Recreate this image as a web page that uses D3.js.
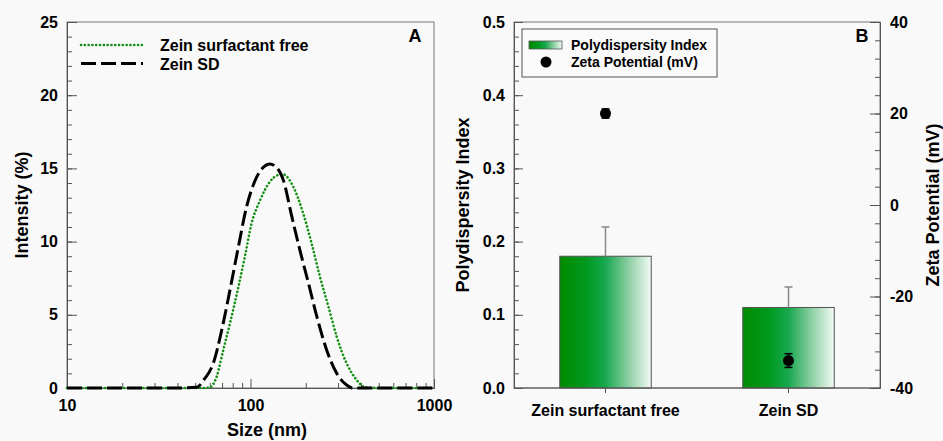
<!DOCTYPE html>
<html>
<head>
<meta charset="utf-8">
<script src="https://cdn.jsdelivr.net/npm/d3@7"></script>
<style>
  body { margin: 0; background: #f9f9f9; }
  svg { display: block; font-family: Arial, "Liberation Sans", sans-serif; font-weight: bold; }
</style>
</head>
<body>
<div id="chart"></div>
<script>
// ---- panel A : size distribution ----
var sizeFree = [10, 20, 40, 55, 60.1, 65.4, 71.1, 77.3, 85.9, 93.2, 101.4, 112.6, 127.7, 141.6, 150, 171, 194, 215, 239, 266, 295, 334, 379, 421, 500, 700, 1000];
var intensityFree = [0, 0, 0, 0, 0.05, 0.77, 2.6, 4.42, 6.9, 8.97, 11.25, 12.8, 14.1, 14.55, 14.6, 13.75, 11.9, 9.9, 7.6, 5.55, 3.5, 1.69, 0.55, 0.05, 0, 0, 0];
var sizeSD = [10, 20, 40, 50.9, 56, 62.7, 69.7, 77.3, 85.9, 95.3, 108, 118, 127, 140, 151, 168, 186, 207, 230, 260, 295, 334, 360, 500, 700, 1000];
var intensitySD = [0, 0, 0, 0.05, 0.6, 1.69, 3.96, 6.7, 9.65, 12.4, 14.4, 15.1, 15.3, 15.0, 14.2, 11.7, 9.4, 7.15, 4.87, 2.6, 1.0, 0.2, 0, 0, 0, 0];
var seriesNamesA = ["Zein surfactant free", "Zein SD"];
var intensityTicks = [0, 5, 10, 15, 20, 25];
var sizeTicks = [10, 100, 1000];

// ---- panel B : PDI bars + zeta potential ----
var categories = ["Zein surfactant free", "Zein SD"];
var pdiValues = [0.18, 0.11];
var pdiErrors = [0.04, 0.028];
var zetaValues = [20, -34];
var zetaErrors = [1, 1.5];
var pdiTicks = [0, 0.1, 0.2, 0.3, 0.4, 0.5];
var zetaTicks = [-40, -20, 0, 20, 40];

var width = 943, height = 441;
var svg = d3.select("#chart").append("svg")
  .attr("width", width).attr("height", height);

var frameColor = "#555";
var plotTop = 22, plotBottom = 388;

/*************** PANEL A ***************/
var ax = d3.scaleLog().domain([10, 1000]).range([67, 434]);
var ay = d3.scaleLinear().domain([0, 25]).range([plotBottom, plotTop]);

var gA = svg.append("g");

// frame
gA.append("rect")
  .attr("x", ax.range()[0]).attr("y", plotTop)
  .attr("width", ax.range()[1] - ax.range()[0]).attr("height", plotBottom - plotTop)
  .attr("fill", "none").attr("stroke", "#777").attr("stroke-width", 1);

// minor ticks y
gA.append("g")
  .attr("transform", "translate(" + ax.range()[0] + ",0)")
  .call(d3.axisLeft(ay).tickValues(d3.range(0, 26, 1)).tickSize(-5).tickFormat(""))
  .call(g => g.select(".domain").remove());
// major y
gA.append("g")
  .attr("transform", "translate(" + ax.range()[0] + ",0)")
  .call(d3.axisLeft(ay).tickValues(intensityTicks).tickSize(-10).tickPadding(9))
  .call(g => g.select(".domain").attr("stroke", frameColor));

// minor x
var minorSizes = [];
[10, 100].forEach(function(dec){ for (var k = 2; k < 10; k++) minorSizes.push(dec * k); });
gA.append("g")
  .attr("transform", "translate(0," + plotBottom + ")")
  .call(d3.axisBottom(ax).tickValues(minorSizes).tickSize(-5).tickFormat(""))
  .call(g => g.select(".domain").remove());
gA.append("g")
  .attr("transform", "translate(0," + plotBottom + ")")
  .call(d3.axisBottom(ax).tickValues(sizeTicks).tickSize(-9).tickPadding(12).tickFormat(d3.format("d")))
  .call(g => g.select(".domain").attr("stroke", frameColor));

var line = d3.line()
  .x(d => ax(d[0])).y(d => ay(d[1]))
  .curve(d3.curveMonotoneX);

var freeData = sizeFree.map((s, i) => [s, intensityFree[i]]);
var sdData = sizeSD.map((s, i) => [s, intensitySD[i]]);

var greenStyle = { stroke: "#138f13", width: 2.6, dash: "0.1,3.7", cap: "round" };
var blackStyle = { stroke: "#000", width: 3, dash: "15,5", cap: "butt" };

gA.append("path").datum(freeData)
  .attr("d", line).attr("fill", "none")
  .attr("stroke", greenStyle.stroke).attr("stroke-width", greenStyle.width)
  .attr("stroke-dasharray", greenStyle.dash).attr("stroke-linecap", greenStyle.cap);
gA.append("path").datum(sdData)
  .attr("d", line).attr("fill", "none")
  .attr("stroke", blackStyle.stroke).attr("stroke-width", blackStyle.width)
  .attr("stroke-dasharray", blackStyle.dash).attr("stroke-linecap", blackStyle.cap);

// legend A
var legA = gA.append("g");
[greenStyle, blackStyle].forEach(function(st, i){
  var yy = 45 + i * 18.5;
  legA.append("line")
    .attr("x1", 81).attr("x2", 143).attr("y1", yy).attr("y2", yy)
    .attr("stroke", st.stroke).attr("stroke-width", st.width)
    .attr("stroke-dasharray", st.dash).attr("stroke-linecap", st.cap);
  legA.append("text")
    .attr("x", 160).attr("y", yy + 6)
    .style("font-size", "16px")
    .text(seriesNamesA[i]);
});

gA.append("text").attr("x", 415).attr("y", 42)
  .attr("text-anchor", "middle").style("font-size", "18px").text("A");

gA.append("text")
  .attr("transform", "translate(28,205) rotate(-90)")
  .attr("text-anchor", "middle").style("font-size", "18px")
  .text("Intensity (%)");
gA.append("text")
  .attr("x", 267).attr("y", 436)
  .attr("text-anchor", "middle").style("font-size", "18px")
  .text("Size (nm)");

/*************** PANEL B ***************/
var bx = d3.scaleBand().domain(categories).range([514, 880])
  .paddingInner(0.5).paddingOuter(0.25);
var by = d3.scaleLinear().domain([0, 0.5]).range([plotBottom, plotTop]);
var zy = d3.scaleLinear().domain([-40, 40]).range([plotBottom, plotTop]);

var gB = svg.append("g");

var defs = svg.append("defs");
var grad = defs.append("linearGradient").attr("id", "pdiGrad")
  .attr("x1", "0%").attr("x2", "100%").attr("y1", "0%").attr("y2", "0%");
[["0%", "#008a00"], ["30%", "#009a20"], ["50%", "#19a850"], ["75%", "#8ccfa2"], ["100%", "#f3faf5"]]
  .forEach(s => grad.append("stop").attr("offset", s[0]).attr("stop-color", s[1]));

gB.append("rect")
  .attr("x", 514).attr("y", plotTop).attr("width", 880 - 514).attr("height", plotBottom - plotTop)
  .attr("fill", "none").attr("stroke", "#777");

// bars
gB.selectAll(".bar").data(categories).enter().append("rect")
  .attr("class", "bar")
  .attr("x", d => bx(d)).attr("width", bx.bandwidth())
  .attr("y", (d, i) => by(pdiValues[i]))
  .attr("height", (d, i) => by(0) - by(pdiValues[i]))
  .attr("fill", "url(#pdiGrad)").attr("stroke", "#555").attr("stroke-width", 1);

// PDI error bars (upper only)
categories.forEach(function(c, i){
  var cx = bx(c) + bx.bandwidth() / 2;
  gB.append("line")
    .attr("x1", cx).attr("x2", cx)
    .attr("y1", by(pdiValues[i])).attr("y2", by(pdiValues[i] + pdiErrors[i]))
    .attr("stroke", "#888").attr("stroke-width", 1.5);
  gB.append("line")
    .attr("x1", cx - 4).attr("x2", cx + 4)
    .attr("y1", by(pdiValues[i] + pdiErrors[i])).attr("y2", by(pdiValues[i] + pdiErrors[i]))
    .attr("stroke", "#888").attr("stroke-width", 1.5);
});

// zeta points
categories.forEach(function(c, i){
  var cx = bx(c) + bx.bandwidth() / 2;
  var lo = zy(zetaValues[i] - zetaErrors[i]), hi = zy(zetaValues[i] + zetaErrors[i]);
  gB.append("line").attr("x1", cx).attr("x2", cx).attr("y1", lo).attr("y2", hi)
    .attr("stroke", "#000").attr("stroke-width", 1.5);
  [lo, hi].forEach(yy => gB.append("line")
    .attr("x1", cx - 4).attr("x2", cx + 4).attr("y1", yy).attr("y2", yy)
    .attr("stroke", "#000").attr("stroke-width", 1.5));
  gB.append("circle").attr("cx", cx).attr("cy", zy(zetaValues[i])).attr("r", 5.5)
    .attr("fill", "#000");
});

// left axis B
gB.append("g")
  .attr("transform", "translate(514,0)")
  .call(d3.axisLeft(by).tickValues(d3.range(0, 0.51, 0.02)).tickSize(-5).tickFormat(""))
  .call(g => g.select(".domain").remove());
gB.append("g")
  .attr("transform", "translate(514,0)")
  .call(d3.axisLeft(by).tickValues(pdiTicks).tickSize(-9).tickPadding(9).tickFormat(d3.format(".1f")))
  .call(g => g.select(".domain").attr("stroke", frameColor));

// right axis B
gB.append("g")
  .attr("transform", "translate(880,0)")
  .call(d3.axisRight(zy).tickValues(d3.range(-40, 41, 4)).tickSize(-5).tickFormat(""))
  .call(g => g.select(".domain").remove());
gB.append("g")
  .attr("transform", "translate(880,0)")
  .call(d3.axisRight(zy).tickValues(zetaTicks).tickSize(-10).tickPadding(10).tickFormat(d => d < 0 ? "-" + Math.abs(d) : d))
  .call(g => g.select(".domain").attr("stroke", frameColor));

// bottom axis B
gB.append("g")
  .attr("transform", "translate(0," + plotBottom + ")")
  .call(d3.axisBottom(bx).tickSize(5).tickPadding(12))
  .call(g => g.select(".domain").attr("stroke", frameColor).attr("d", "M514,0H880"));

// legend B
var legB = gB.append("g");
legB.append("rect").attr("x", 522).attr("y", 29).attr("width", 195).attr("height", 48)
  .attr("fill", "#fafafa").attr("stroke", "#555");
legB.append("rect").attr("x", 529).attr("y", 41).attr("width", 33).attr("height", 8)
  .attr("fill", "url(#pdiGrad)").attr("stroke", "#555").attr("stroke-width", 0.8);
legB.append("circle").attr("cx", 546).attr("cy", 62).attr("r", 5.5).attr("fill", "#000");
legB.append("text").attr("x", 571).attr("y", 50).style("font-size", "14px").text("Polydispersity Index");
legB.append("text").attr("x", 571).attr("y", 67).style("font-size", "14px").text("Zeta Potential (mV)");

gB.append("text").attr("x", 862).attr("y", 42)
  .attr("text-anchor", "middle").style("font-size", "18px").text("B");

gB.append("text")
  .attr("transform", "translate(939,205) rotate(-90)")
  .attr("text-anchor", "middle").style("font-size", "18px")
  .text("Zeta Potential (mV)");
gB.append("text")
  .attr("transform", "translate(469,205) rotate(-90)")
  .attr("text-anchor", "middle").style("font-size", "18px")
  .text("Polydispersity Index");

// tick label fonts
svg.selectAll(".tick text").style("font-size", "16px").style("font-family", "Arial, 'Liberation Sans', sans-serif").attr("fill", "#000");
svg.selectAll(".tick line").attr("stroke", frameColor);
</script>
</body>
</html>
